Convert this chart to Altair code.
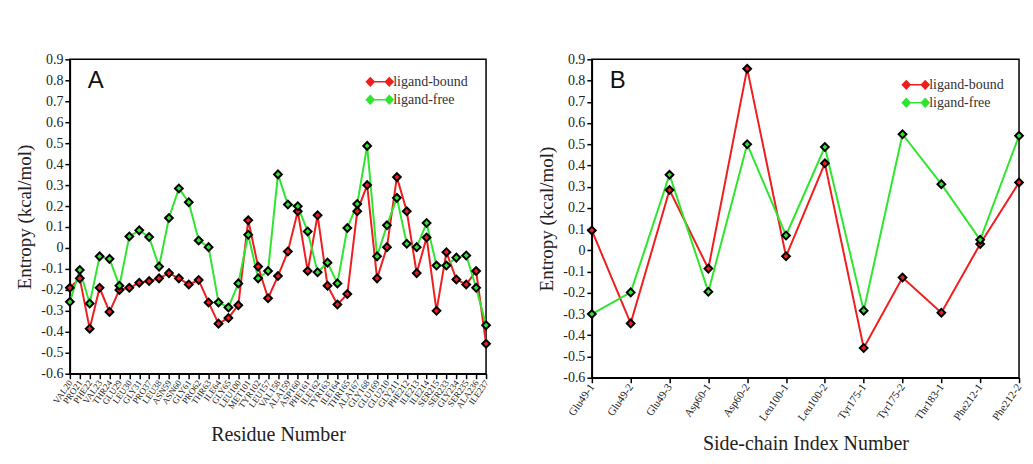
import altair as alt
import pandas as pd

# ---------------- data ----------------
residues_A = [
    "VAL20", "PRO21", "PHE22", "VAL23", "THR24", "GLU29", "LEU30", "GLY31", "PRO37", "LEU38",
    "ASN59", "ASN60", "GLY61", "PRO62", "THR63", "ILE64", "GLY65", "LEU100", "MET101", "TYR102",
    "LEU157", "VAL158", "ALA159", "ASP160", "PHE161", "ILE162", "TYR163", "ILE164", "THR165", "ALA167",
    "GLY168", "GLU169", "GLU210", "GLY211", "PHE212", "ILE213", "ILE214", "SER215", "SER233", "GLY234",
    "SER235", "ALA236", "ILE237",
]
bound_A = [
    -0.19, -0.145, -0.385, -0.19, -0.305, -0.20, -0.19, -0.166, -0.158, -0.145,
    -0.12, -0.145, -0.174, -0.153, -0.26, -0.361, -0.334, -0.273, 0.132, -0.089,
    -0.24, -0.134, -0.017, 0.175, -0.11, 0.156, -0.18, -0.27, -0.22, 0.175,
    0.30, -0.145, 0.004, 0.338, 0.175, -0.12, 0.05, -0.30, -0.02, -0.15,
    -0.174, -0.11, -0.457,
]
free_A = [
    -0.257, -0.105, -0.265, -0.04, -0.052, -0.18, 0.055, 0.084, 0.052, -0.089,
    0.143, 0.284, 0.218, 0.036, 0.004, -0.26, -0.284, -0.169, 0.063, -0.145,
    -0.11, 0.351, 0.207, 0.199, 0.079, -0.116, -0.07, -0.169, 0.095, 0.21,
    0.487, -0.04, 0.108, 0.239, 0.02, 0.004, 0.119, -0.084, -0.084, -0.046,
    -0.036, -0.19, -0.369,
]

sidechains_B = [
    "Glu49-1", "Glu49-2", "Glu49-3", "Asp60-1", "Asp60-2", "Leu100-1",
    "Leu100-2", "Tyr175-1", "Tyr175-2", "Thr183-1", "Phe212-1", "Phe212-2",
]
bound_B = [0.094, -0.344, 0.284, -0.086, 0.856, -0.028, 0.41, -0.46, -0.128, -0.294, 0.03, 0.32]
free_B = [-0.30, -0.198, 0.356, -0.195, 0.50, 0.07, 0.487, -0.284, 0.547, 0.312, 0.05, 0.54]

series_names = ["ligand-bound", "ligand-free"]
panel_letters = ["A", "B"]
x_titles = ["Residue Number", "Side-chain Index Number"]
y_title = "Entropy (kcal/mol)"
y_ticks = [round(-0.6 + 0.1 * i, 1) for i in range(16)]

# ---------------- styling ----------------
SERIF = "Liberation Serif"
COLORS = ["#f01e1e", "#2fe52f"]
LEGEND_PATH = "M-1,0H1M-1.4,0L-1,-0.42L-0.6,0L-1,0.42ZM0.6,0L1,-0.42L1.4,0L1,0.42Z"


def long_df(labels, bound, free):
    rows = []
    for i, lab in enumerate(labels):
        rows.append({"label": lab, "series": series_names[0], "value": bound[i]})
        rows.append({"label": lab, "series": series_names[1], "value": free[i]})
    return pd.DataFrame(rows)


def panel(labels, bound, free, letter, xtitle, w, h, xlabel_size, title_pad, legend_xy):
    df = long_df(labels, bound, free)
    xenc = alt.X(
        "label:N",
        sort=labels,
        scale=alt.Scale(type="point", padding=0),
        axis=alt.Axis(
            title=xtitle,
            labelAngle=-55,
            labelFontSize=xlabel_size,
            labelFont=SERIF,
            labelColor="#222",
            labelOverlap=False,
            labelPadding=2,
            titleFont=SERIF,
            titleFontSize=20,
            titleFontWeight="normal",
            titleColor="#222",
            titlePadding=title_pad,
            tickColor="black",
            tickSize=5,
            tickWidth=1.5,
            domainColor="black",
            domainWidth=1.5,
            grid=False,
        ),
    )
    yenc = alt.Y(
        "value:Q",
        scale=alt.Scale(domain=[-0.6, 0.9], nice=False, zero=False),
        axis=alt.Axis(
            title=y_title,
            values=y_ticks,
            labelExpr="replace(format(datum.value, '.1~f'), '\u2212', '-')",
            labelFont=SERIF,
            labelFontSize=14,
            labelColor="#222",
            labelPadding=2,
            titleFont=SERIF,
            titleFontSize=19,
            titleFontWeight="normal",
            titleColor="#222",
            titlePadding=6,
            tickColor="black",
            tickSize=5,
            tickWidth=1.5,
            domainColor="black",
            domainWidth=1.5,
            grid=False,
        ),
    )
    legend = alt.Legend(
        title=None,
        orient="none",
        legendX=legend_xy[0],
        legendY=legend_xy[1],
        symbolType=LEGEND_PATH,
        symbolSize=360,
        symbolStrokeColor="black",
        symbolStrokeWidth=1.6,
        labelFont=SERIF,
        labelFontSize=14,
        labelColor="#333",
        rowPadding=0,
        labelOffset=3,
    )
    color = alt.Color("series:N", scale=alt.Scale(domain=series_names, range=COLORS), legend=legend)
    base = alt.Chart(df).encode(x=xenc, y=yenc, color=color)
    lines = base.mark_line(strokeWidth=2)
    points = base.mark_point(
        shape="diamond", filled=True, size=60, stroke="black", strokeWidth=2, opacity=1
    )
    letter_df = pd.DataFrame({"t": [letter]})
    letter_mark = alt.Chart(letter_df).mark_text(
        font="Liberation Sans", fontSize=24, align="left", baseline="top", color="#111"
    ).encode(text="t:N", x=alt.value(18), y=alt.value(10))
    return alt.layer(lines, points, letter_mark).properties(width=w, height=h)


panel_a = panel(residues_A, bound_A, free_A, panel_letters[0], x_titles[0], 417, 315, 9, 14, (300, 12))
panel_b = panel(sidechains_B, bound_B, free_B, panel_letters[1], x_titles[1], 428, 319, 11, 11, (314, 15))

chart = (
    alt.hconcat(panel_a, panel_b, spacing=42)
    .resolve_scale(color="independent")
    .properties(padding={"left": 15, "top": 51, "right": 5, "bottom": 5}, background="white")
    .configure_view(stroke="black", strokeWidth=1.5)
)

chart.save("out.html", embed_options={"renderer": "svg", "actions": False})
